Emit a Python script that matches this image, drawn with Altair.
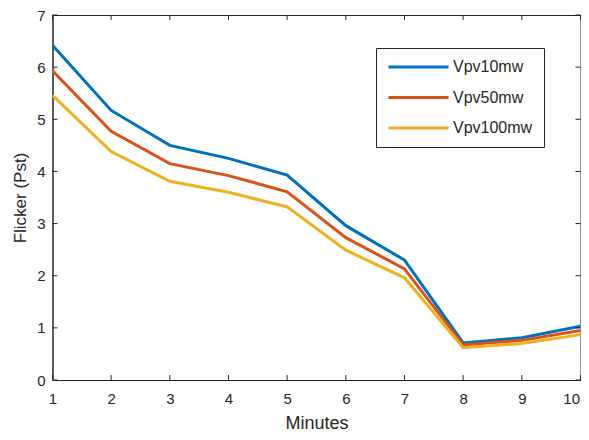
import altair as alt
import pandas as pd

minutes = [1, 2, 3, 4, 5, 6, 7, 8, 9, 10]
vpv10 = [6.42, 5.17, 4.50, 4.25, 3.93, 2.96, 2.30, 0.71, 0.81, 1.03]
vpv50 = [5.93, 4.77, 4.15, 3.92, 3.61, 2.73, 2.13, 0.67, 0.76, 0.95]
vpv100 = [5.46, 4.38, 3.81, 3.60, 3.32, 2.49, 1.96, 0.62, 0.70, 0.87]
series_names = ["Vpv10mw", "Vpv50mw", "Vpv100mw"]
colors = ["#0072BD", "#D95319", "#EDB120"]
x_ticks = [1, 2, 3, 4, 5, 6, 7, 8, 9, 10]
y_ticks = [0, 1, 2, 3, 4, 5, 6, 7]

rows = []
for name, vals in zip(series_names, [vpv10, vpv50, vpv100]):
    for m, v in zip(minutes, vals):
        rows.append({"Minutes": m, "Flicker": v, "Series": name})
df = pd.DataFrame(rows)

W, H = 528, 365
FONT = "Liberation Sans"
AX = "#262626"

xscale = alt.Scale(domain=[1, 10], nice=False)
yscale = alt.Scale(domain=[0, 7], nice=False)

lines = alt.Chart(df).mark_line(strokeWidth=3, clip=True).encode(
    x=alt.X("Minutes:Q", scale=xscale,
            axis=alt.Axis(values=x_ticks, title="Minutes", ticks=False,
                          labelPadding=11, titlePadding=8, format="d",
                          titleFontSize=18,
                          labelAlign={"condition": {"test": "datum.value == 10", "value": "right"},
                                      "value": "center"},
                          labelOffset={"condition": {"test": "datum.value == 10", "value": -1},
                                       "value": 0})),
    y=alt.Y("Flicker:Q", scale=yscale,
            axis=alt.Axis(values=y_ticks, title="Flicker (Pst)", ticks=False,
                          labelPadding=7.5, titlePadding=7, format="d",
                          titleFontSize=17)),
    color=alt.Color("Series:N", scale=alt.Scale(domain=series_names, range=colors),
                    sort=series_names,
                    legend=alt.Legend(title=None, orient="none", legendX=323.5, legendY=33,
                                      symbolType="stroke", symbolSize=3600,
                                      symbolStrokeWidth=3, clipHeight=16,
                                      rowPadding=14.5, padding=11, labelOffset=3,
                                      labelFontSize=16, labelFont=FONT, labelColor=AX,
                                      strokeColor=AX, fillColor="white")),
)

xt = pd.DataFrame({"t": x_ticks})
yt = pd.DataFrame({"t": y_ticks})
tick_style = dict(color=AX, strokeWidth=1)
xb = alt.Chart(xt).mark_rule(**tick_style).encode(
    x=alt.X("t:Q", scale=xscale), y=alt.value(H), y2=alt.value(H - 5))
xtop = alt.Chart(xt).mark_rule(**tick_style).encode(
    x=alt.X("t:Q", scale=xscale), y=alt.value(0), y2=alt.value(5))
yl = alt.Chart(yt).mark_rule(**tick_style).encode(
    y=alt.Y("t:Q", scale=yscale), x=alt.value(0), x2=alt.value(5))
yr = alt.Chart(yt).mark_rule(**tick_style).encode(
    y=alt.Y("t:Q", scale=yscale), x=alt.value(W), x2=alt.value(W - 5))

chart = alt.layer(lines, xb, xtop, yl, yr).properties(
    width=W, height=H,
    autosize=alt.AutoSizeParams(type="none"),
    padding={"left": 44.5, "top": 7, "right": 0, "bottom": 52},
    background="white",
).configure_view(stroke=AX, strokeWidth=1).configure_axis(
    grid=False, domainColor=AX, domainWidth=1,
    labelFont=FONT, labelFontSize=15, labelColor=AX,
    titleFont=FONT, titleColor=AX, titleFontWeight="normal",
)

chart.save("out.html", embed_options={"renderer": "svg", "actions": False})
